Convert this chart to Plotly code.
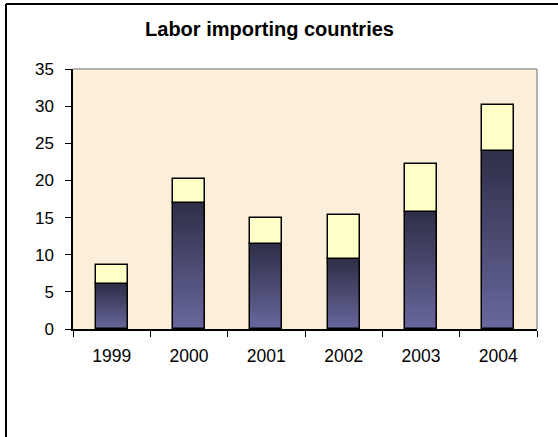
import plotly.graph_objects as go

# Labor importing countries, stacked by year
years = ["1999", "2000", "2001", "2002", "2003", "2004"]
lower_part = [6.0, 17.0, 11.5, 9.4, 15.8, 24.0]
upper_part = [2.6, 3.2, 3.5, 6.0, 6.4, 6.2]
y_ticks = [0, 5, 10, 15, 20, 25, 30, 35]

W, H = 558, 437
L, R, T, B = 73, 21, 69, 108
plot_w = W - L - R
plot_h = H - T - B
bar_w = 0.414

top_rgb = (0x2E, 0x2E, 0x47)
bot_rgb = (0x68, 0x68, 0x9E)
n_slices = 40


def mix(a, b, t):
    return "rgb(%d,%d,%d)" % tuple(round(a[k] + (b[k] - a[k]) * t) for k in range(3))


fig = go.Figure()

# vertical gradient fill for the lower segment, built from thin slices
for i in range(n_slices):
    frac = i / n_slices
    fig.add_trace(go.Bar(
        x=years,
        base=[v * frac for v in lower_part],
        y=[v / n_slices * 1.05 for v in lower_part],
        width=bar_w,
        marker=dict(color=mix(bot_rgb, top_rgb, (i + 0.5) / n_slices), line=dict(width=0)),
        showlegend=False, hoverinfo="skip",
    ))

# outline of the lower segment
fig.add_trace(go.Bar(
    x=years, base=[0] * len(years), y=lower_part, width=bar_w,
    marker=dict(color="rgba(0,0,0,0)", line=dict(color="black", width=1.5)),
    showlegend=False,
))

# upper segment
fig.add_trace(go.Bar(
    x=years, base=lower_part, y=upper_part, width=bar_w,
    marker=dict(color="#FFFFC8", line=dict(color="black", width=1.5)),
    showlegend=False,
))


def px_x(p):
    return (p - L) / plot_w


def px_y(p):
    return (H - B - p) / plot_h


shapes = [
    # plot area frame (top and right edges grey)
    dict(type="line", xref="paper", yref="paper", x0=0, x1=1, y0=1, y1=1,
         line=dict(color="#9A9A9A", width=1.5)),
    dict(type="line", xref="paper", yref="paper", x0=1, x1=1, y0=0, y1=1,
         line=dict(color="#9A9A9A", width=1.5)),
    # outer chart border (left and top)
    dict(type="line", xref="paper", yref="paper", x0=px_x(6), x1=px_x(6),
         y0=px_y(4), y1=px_y(H + 5), line=dict(color="black", width=2)),
    dict(type="line", xref="paper", yref="paper", x0=px_x(6), x1=px_x(W + 5),
         y0=px_y(4), y1=px_y(4), line=dict(color="black", width=2)),
]

fig.update_layout(
    width=W, height=H,
    margin=dict(l=L, r=R, t=T, b=B),
    barmode="overlay",
    paper_bgcolor="white",
    plot_bgcolor="#FBEFD9",
    font=dict(family="Liberation Sans, Arial, sans-serif", color="black", size=17),
    title=dict(text="<b>Labor importing countries</b>", x=269.5 / W,
               xanchor="center", y=1 - 28.5 / H, yanchor="middle",
               font=dict(size=20, color="black")),
    shapes=shapes,
    bargap=0,
)

fig.update_xaxes(
    type="category", showline=True, linecolor="black", linewidth=1.5,
    ticks="outside", tickson="boundaries", ticklen=6, tickcolor="black", tickwidth=1,
    ticklabelstandoff=10, showgrid=False, tickfont=dict(size=17.5),
)
fig.update_yaxes(
    range=[0, 35], tickvals=y_ticks, showline=True, linecolor="black", linewidth=1.5,
    ticks="outside", ticklen=6, tickcolor="black", tickwidth=1,
    ticklabelstandoff=8, showgrid=False, zeroline=False, tickfont=dict(size=17),
)

fig.write_html("out.html")
